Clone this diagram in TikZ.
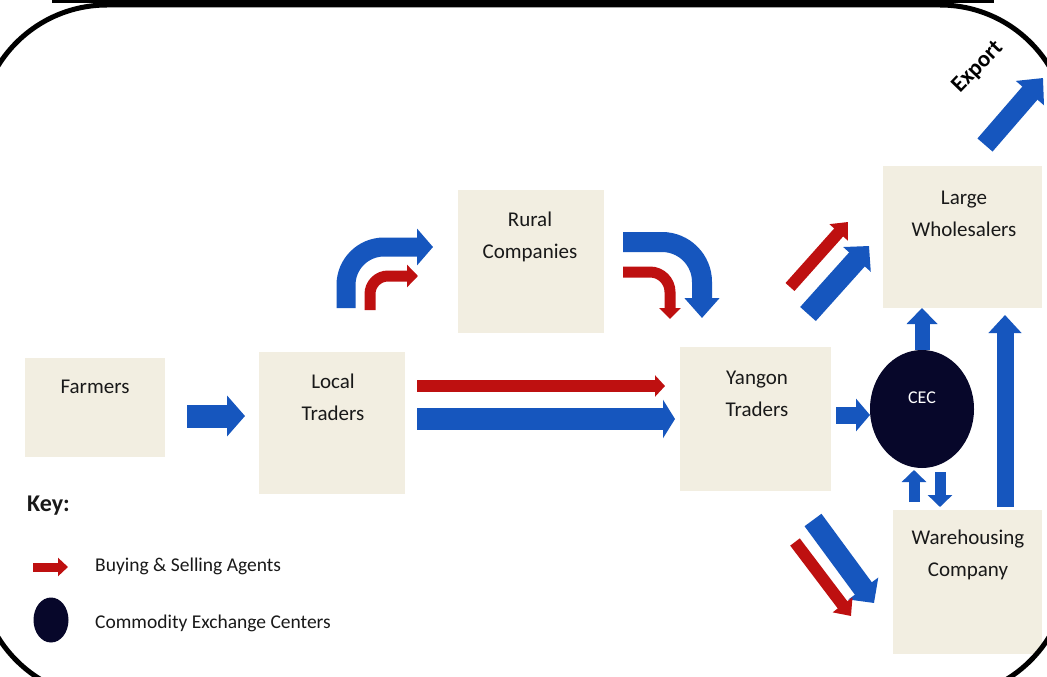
\documentclass[tikz,border=0pt]{standalone}
\usepackage{fontspec}
\setmainfont{Carlito}
\usetikzlibrary{arrows.meta,shapes.geometric}
\definecolor{boxc}{HTML}{F2EEE1}
\definecolor{ablue}{HTML}{1656BE}
\definecolor{ared}{HTML}{BE1010}
\definecolor{cecc}{HTML}{07072A}
\tikzset{
  box/.style={fill=boxc, draw=none, inner sep=0pt},
  lbl/.style={font=\fontsize{21}{32}\selectfont, align=center, text=black!90, inner sep=0pt},
  keytxt/.style={font=\fontsize{19.5}{22}\selectfont, anchor=west, text=black!90, inner sep=0pt},
  barrow/.style={draw=ablue, line cap=butt},
  rarrow/.style={draw=ared, line cap=butt},
}
\begin{document}
\begin{tikzpicture}[x=1pt,y=-1pt]
\useasboundingbox (0,0) rectangle (1047,677);
\clip (0,0) rectangle (1047,677);
\fill[white] (0,0) rectangle (1047,677);
\begin{scope}
\clip[rounded corners=128pt] (-21,5) rectangle (1068,698);
% boxes
\path[box] (25,358) rectangle (165,457) node[pos=0.5] (farmers) {};
\path[box] (259,352) rectangle (405,494) node[pos=0.5] (local) {};
\path[box] (458,190) rectangle (604,333) node[pos=0.5] (rural) {};
\path[box] (680,347) rectangle (831,491) node[pos=0.5] (yangon) {};
\path[box] (883,166) rectangle (1042,308) node[pos=0.5] (large) {};
\path[box] (893,510) rectangle (1042,654) node[pos=0.5] (ware) {};
% labels
\node[lbl] (tfarmers) at (95,387) {Farmers};
\node[lbl] (tlocal) at (333,397.5) {Local\\Traders};
\node[lbl] (trural) at (530,237) {Rural\\Companies};
\node[lbl] (tyangon) at (757,394) {Yangon\\Traders};
\node[lbl] (tlarge) at (964,213.5) {Large\\Wholesalers};
\node[lbl] (tware) at (968,554.5) {Warehousing\\Company};
% CEC
\node[fill=cecc, ellipse, minimum width=104pt, minimum height=118pt, inner sep=0pt] (cec) at (922,409) {};
\node[font=\fontsize{18}{20}\selectfont, text=white, inner sep=0pt] (tcec) at (922,398) {CEC};
% arrow coordinates
\coordinate (fa1) at (187,416);  \coordinate (fa2) at (245,416);
\coordinate (lr1) at (417,386);  \coordinate (lr2) at (665,386);
\coordinate (lb1) at (417,419);  \coordinate (lb2) at (675,419);
\coordinate (cb1) at (346,308);  \coordinate (cbc) at (346,247); \coordinate (cb2) at (433,247);
\coordinate (cr1) at (370,310);  \coordinate (crc) at (370,276); \coordinate (cr2) at (418,276);
\coordinate (db1) at (623,242);  \coordinate (dbc) at (702,242); \coordinate (db2) at (702,318);
\coordinate (dr1) at (623,272);  \coordinate (drc) at (670,272); \coordinate (dr2) at (670,319);
\coordinate (ur1) at (790,287);  \coordinate (ur2) at (848,222);
\coordinate (ub1) at (808,314);  \coordinate (ub2) at (869,246);
\coordinate (wb1) at (813,520);  \coordinate (wb2) at (874,603);
\coordinate (wr1) at (795,542);  \coordinate (wr2) at (851,616);
\coordinate (yc1) at (836,415);  \coordinate (yc2) at (870,415);
\coordinate (cl1) at (922,350);  \coordinate (cl2) at (922,308);
\coordinate (wl1) at (1005,507); \coordinate (wl2) at (1005,315);
\coordinate (wc1) at (914,502);  \coordinate (wc2) at (914,470);
\coordinate (cw1) at (940,472);  \coordinate (cw2) at (940,507);
\coordinate (ex1) at (985,145);  \coordinate (ex2) at (1043,78);
% arrows
\draw[barrow, line width=23pt, -{Triangle[length=18pt,width=40pt]}] (fa1) -- (fa2);
\draw[rarrow, line width=12pt, -{Triangle[length=10pt,width=21pt]}] (lr1) -- (lr2);
\draw[barrow, line width=22pt, -{Triangle[length=12pt,width=38pt]}] (lb1) -- (lb2);
\draw[barrow, line width=19pt, rounded corners=38pt, -{Triangle[length=16pt,width=36pt]}] (cb1) -- (cbc) -- (cb2);
\draw[rarrow, line width=11pt, rounded corners=18pt, -{Triangle[length=11pt,width=22pt]}] (cr1) -- (crc) -- (cr2);
\draw[barrow, line width=20pt, rounded corners=40pt, -{Triangle[length=20pt,width=34pt]}] (db1) -- (dbc) -- (db2);
\draw[rarrow, line width=11pt, rounded corners=20pt, -{Triangle[length=11pt,width=21pt]}] (dr1) -- (drc) -- (dr2);
\draw[rarrow, line width=12pt, -{Triangle[length=14pt,width=24pt]}] (ur1) -- (ur2);
\draw[barrow, line width=21pt, -{Triangle[length=18pt,width=36pt]}] (ub1) -- (ub2);
\draw[barrow, line width=21pt, -{Triangle[length=18pt,width=36pt]}] (wb1) -- (wb2);
\draw[rarrow, line width=12pt, -{Triangle[length=14pt,width=24pt]}] (wr1) -- (wr2);
\draw[barrow, line width=17pt, -{Triangle[length=14pt,width=32pt]}] (yc1) -- (yc2);
\draw[barrow, line width=15pt, -{Triangle[length=16pt,width=30pt]}] (cl1) -- (cl2);
\draw[barrow, line width=17pt, -{Triangle[length=18pt,width=32pt]}] (wl1) -- (wl2);
\draw[barrow, line width=11pt, -{Triangle[length=12pt,width=24pt]}] (wc1) -- (wc2);
\draw[barrow, line width=11pt, -{Triangle[length=12pt,width=24pt]}] (cw1) -- (cw2);
\draw[barrow, line width=20pt, -{Triangle[length=20pt,width=36pt]}] (ex1) -- (ex2);
\node[font=\bfseries\fontsize{23}{26}\selectfont, rotate=46, anchor=base west, inner sep=0pt] (texport) at (960,94) {Export};
% key
\node[font=\bfseries\fontsize{24}{26}\selectfont, anchor=west, inner sep=0pt, text=black!90] (tkey) at (27,506) {Key:};
\coordinate (k1) at (33,567); \coordinate (k2) at (68,567);
\draw[rarrow, line width=9pt, -{Triangle[length=10pt,width=18pt]}] (k1) -- (k2);
\node[keytxt] (tbuy) at (95,566) {Buying \& Selling Agents};
\node[fill=cecc, ellipse, minimum width=35pt, minimum height=45pt, inner sep=0pt] (kcec) at (51,620) {};
\node[keytxt] (tcomm) at (95,623) {Commodity Exchange Centers};
\end{scope}
% frame
\draw[line width=5pt, rounded corners=128pt] (-21,5) rectangle (1068,698);
\draw[line width=3pt] (52,1.5) -- (994,1.5);
\end{tikzpicture}
\end{document}
